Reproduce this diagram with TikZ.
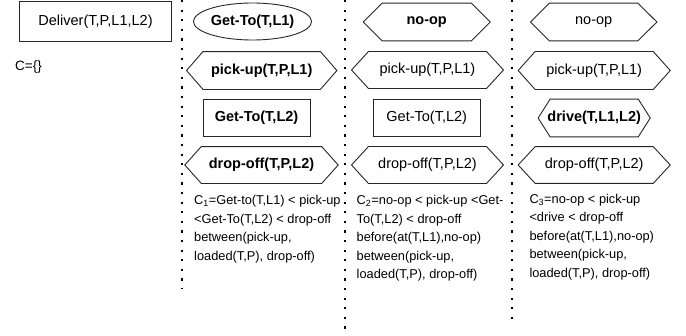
\documentclass[tikz,border=0pt]{standalone}
\usepackage{fontspec}
\setmainfont{Liberation Sans}
\usetikzlibrary{shapes.geometric}
\newcommand\drawhexnode[2]{\draw[shapeline] (#1.west) -- ([xshift=#2]#1.north west) -- ([xshift=-#2]#1.north east) -- (#1.east) -- ([xshift=-#2]#1.south east) -- ([xshift=#2]#1.south west) -- cycle;}
\begin{document}
\begin{tikzpicture}[x=1pt,y=-1pt,
  shapeline/.style={line width=0.9pt,draw=black!85},
  lbl/.style={font=\fontsize{14.5}{16}\selectfont,inner sep=0pt,text=black},
  boldlbl/.style={lbl,font=\fontsize{14.5}{16}\selectfont\bfseries},
  boxnode/.style={shapeline,draw,rectangle,minimum height=37.6pt},
  ellnode/.style={shapeline,draw,ellipse,minimum height=37pt},
  hexlbl/.style={rectangle,minimum height=37pt},
  ctext/.style={font=\fontsize{12.8}{15}\selectfont,inner sep=0pt,anchor=base west},
  sep/.style={line width=2.2pt,black,dash pattern=on 2.2pt off 7.4pt}
]
\useasboundingbox (0,0) rectangle (686,335);

% column separators
\coordinate (s1t) at (182,0);   \coordinate (s1b) at (182,289);
\coordinate (s2t) at (345,0);   \coordinate (s2b) at (345,335);
\coordinate (s3t) at (512,0);   \coordinate (s3b) at (512,324);
\draw[sep] (s1t) -- (s1b);
\draw[sep] (s2t) -- (s2b);
\draw[sep] (s3t) -- (s3b);

% column 0
\node[boxnode,lbl,minimum width=152.4pt,minimum height=39.3pt] (deliver) at (95.5,21.3) {Deliver(T,P,L1,L2)};
\node[ctext,font=\fontsize{13.5}{15}\selectfont] (c0) at (15,70) {C=\{\}};

% column 1
\node[ellnode,boldlbl,minimum width=99pt] (g1) at (252.5,21.5) {Get-To(T,L1)};
\node[hexlbl,boldlbl,minimum width=150pt,minimum height=37.5pt] (p1) at (261.7,70.5) {pick-up(T,P,L1)};
\node[boxnode,boldlbl,minimum width=107pt] (g2) at (256.5,118) {Get-To(T,L2)};
\node[hexlbl,boldlbl,minimum width=153pt,minimum height=36.5pt] (d1) at (261.5,165) {drop-off(T,P,L2)};
\drawhexnode{p1}{16.5pt}
\drawhexnode{d1}{16.5pt}

% column 2
\node[hexlbl,boldlbl,minimum width=126.7pt,minimum height=37.4pt] (n2) at (426.7,22) {no-op};
\node[hexlbl,lbl,minimum width=151.6pt,minimum height=36.6pt] (p2) at (427.5,70) {pick-up(T,P,L1)};
\node[boxnode,lbl,minimum width=106.7pt] (g3) at (426.7,118) {Get-To(T,L2)};
\node[hexlbl,lbl,minimum width=151.6pt,minimum height=36.6pt] (d2) at (427.5,165) {drop-off(T,P,L2)};
\drawhexnode{n2}{19pt}
\drawhexnode{p2}{17pt}
\drawhexnode{d2}{17pt}

% column 3
\node[hexlbl,lbl,minimum width=126pt,minimum height=37.4pt] (n3) at (593.7,22) {no-op};
\node[hexlbl,lbl,minimum width=151.7pt,minimum height=37.6pt] (p3) at (594.2,70.5) {pick-up(T,P,L1)};
\node[hexlbl,boldlbl,minimum width=111.7pt,minimum height=37.4pt] (dr3) at (594.2,118) {drive(T,L1,L2)};
\node[hexlbl,lbl,minimum width=151.7pt,minimum height=36.3pt] (d3) at (594.2,165) {drop-off(T,P,L2)};
\drawhexnode{n3}{19pt}
\drawhexnode{p3}{17pt}
\drawhexnode{dr3}{12pt}
\drawhexnode{d3}{17pt}

% constraint texts
\node[ctext] (t1a) at (194,204.5) {C\textsubscript{1}=Get-to(T,L1) < pick-up};
\node[ctext] (t1b) at (194,223) {<Get-To(T,L2) < drop-off};
\node[ctext] (t1c) at (194,241.5) {between(pick-up,};
\node[ctext] (t1d) at (194,260) {loaded(T,P), drop-off)};

\node[ctext] (t2a) at (356.5,204.5) {C\textsubscript{2}=no-op < pick-up <Get-};
\node[ctext] (t2b) at (356.5,223) {To(T,L2) < drop-off};
\node[ctext] (t2c) at (356.5,241.5) {before(at(T,L1),no-op)};
\node[ctext] (t2d) at (356.5,260) {between(pick-up,};
\node[ctext] (t2e) at (356.5,278.5) {loaded(T,P), drop-off)};

\node[ctext] (t3a) at (529.3,203) {C\textsubscript{3}=no-op < pick-up};
\node[ctext] (t3b) at (529.3,221.5) {<drive < drop-off};
\node[ctext] (t3c) at (529.3,240) {before(at(T,L1),no-op)};
\node[ctext] (t3d) at (529.3,258.5) {between(pick-up,};
\node[ctext] (t3e) at (529.3,277) {loaded(T,P), drop-off)};
\end{tikzpicture}
\end{document}
